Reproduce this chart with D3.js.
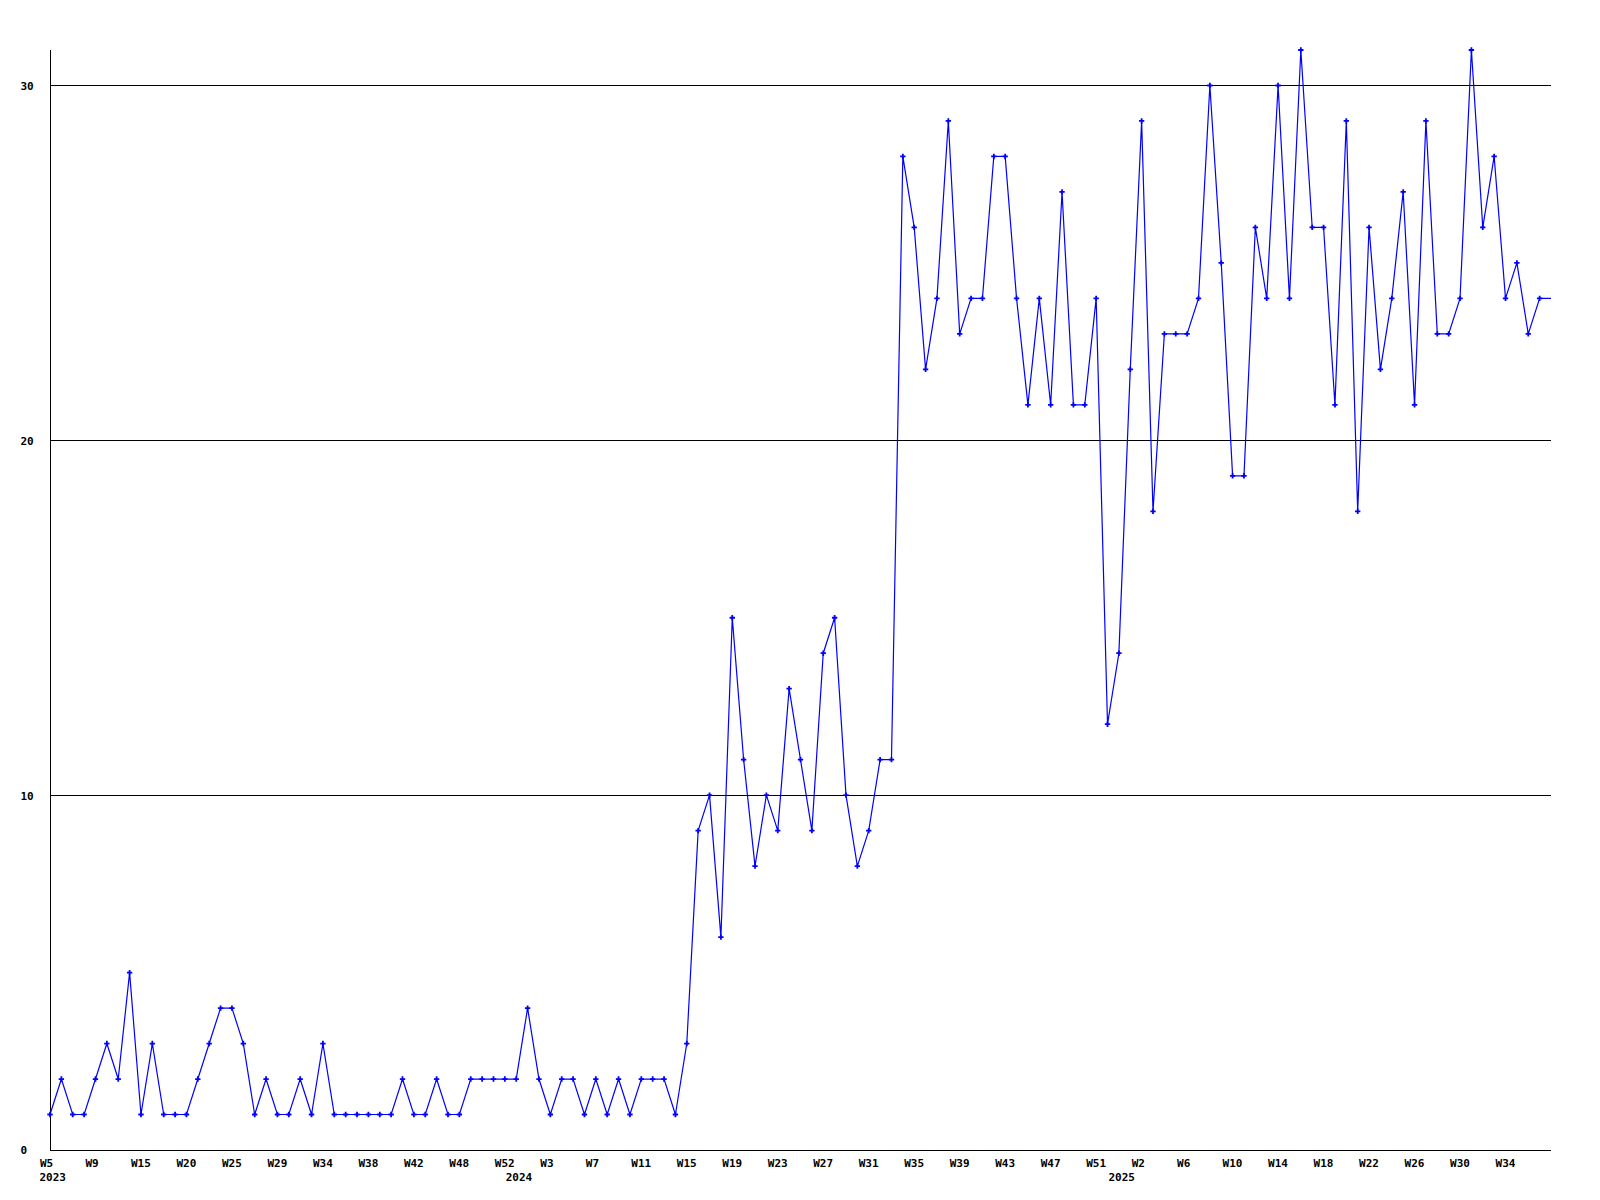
<!DOCTYPE html>
<html>
<head>
<meta charset="utf-8">
<script src="https://cdn.jsdelivr.net/npm/d3@7"></script>
<style>
  html, body { margin: 0; padding: 0; background: #ffffff; }
  svg { display: block; }
  text { font-family: "DejaVu Sans Mono", monospace; font-weight: bold; font-size: 11px; fill: #000; }
</style>
</head>
<body>
<svg id="chart" width="1600" height="1200"></svg>
<script>
// ---- data ----
const values = [
  1, 2, 1, 1, 2, 3, 2, 5, 1, 3,
  1, 1, 1, 2, 3, 4, 4, 3, 1, 2,
  1, 1, 2, 1, 3, 1, 1, 1, 1, 1,
  1, 2, 1, 1, 2, 1, 1, 2, 2, 2,
  2, 2, 4, 2, 1, 2, 2, 1, 2, 1,
  2, 1, 2, 2, 2, 1, 3, 9, 10, 6,
  15, 11, 8, 10, 9, 13, 11, 9, 14, 15,
  10, 8, 9, 11, 11, 28, 26, 22, 24, 29,
  23, 24, 24, 28, 28, 24, 21, 24, 21, 27,
  21, 21, 24, 12, 14, 22, 29, 18, 23, 23,
  23, 24, 30, 25, 19, 19, 26, 24, 30, 24,
  31, 26, 26, 21, 29, 18, 26, 22, 24, 27,
  21, 29, 23, 23, 24, 31, 26, 28, 24, 25,
  23, 24
];
const weekTickLabels = [
  "W5", "W9", "W15", "W20", "W25", "W29", "W34", "W38", "W42", "W48", "W52",
  "W3", "W7", "W11", "W15", "W19", "W23", "W27", "W31", "W35", "W39", "W43", "W47", "W51",
  "W2", "W6", "W10", "W14", "W18", "W22", "W26", "W30", "W34"
];
const weekTickEvery = 4;
const yearLabels = ["2023", "2024", "2025"];
const yearStartIndex = [0, 41, 94];
const yTicks = [0, 10, 20, 30];

(function () {
  // ---- layout ----
  const mLeft = 50, mRight = 1551, mTop = 50, mBottom = 1150;
  const svg = d3.select("#chart");

  const x = d3.scaleLinear().domain([0, values.length]).range([mLeft, mRight]);
  const y = d3.scaleLinear().domain([0, d3.max(values)]).range([mBottom, mTop]);

  // grid lines
  svg.append("g")
    .selectAll("line")
    .data(yTicks.filter(d => d > 0))
    .join("line")
    .attr("x1", mLeft).attr("x2", mRight)
    .attr("y1", d => Math.round(y(d)) + 0.5).attr("y2", d => Math.round(y(d)) + 0.5)
    .attr("stroke", "#000").attr("stroke-width", 1)
    .attr("shape-rendering", "crispEdges");

  // y axis
  const yAxis = svg.append("g")
    .attr("transform", `translate(${mLeft + 0.5},0)`)
    .call(d3.axisLeft(y).tickValues(yTicks).tickFormat(d3.format("d")).tickSize(0));
  yAxis.select(".domain").attr("stroke", "#000").attr("shape-rendering", "crispEdges")
    .attr("d", `M0,${mTop}V${mBottom + 0.5}`);
  yAxis.selectAll("text")
    .attr("text-anchor", "start")
    .attr("x", 20 - mLeft)
    .attr("dy", "0.36em")
    .style("font-family", "'DejaVu Sans Mono', monospace")
    .style("font-weight", "bold")
    .style("font-size", "11px");

  // x axis
  const tickIdx = weekTickLabels.map((_, i) => i * weekTickEvery);
  const xAxis = svg.append("g")
    .attr("transform", `translate(0,${mBottom + 0.5})`)
    .call(d3.axisBottom(x).tickValues(tickIdx)
      .tickFormat((d, i) => weekTickLabels[i]).tickSize(0));
  xAxis.select(".domain").attr("stroke", "#000").attr("shape-rendering", "crispEdges")
    .attr("d", `M${mLeft},0H${mRight}`);
  xAxis.selectAll("text")
    .attr("text-anchor", "start")
    .attr("dx", -10.5)
    .attr("y", 0)
    .attr("dy", 16)
    .style("font-family", "'DejaVu Sans Mono', monospace")
    .style("font-weight", "bold")
    .style("font-size", "11px");

  // year labels
  svg.append("g")
    .selectAll("text")
    .data(yearLabels)
    .join("text")
    .attr("x", (d, i) => x(yearStartIndex[i]) - 10.5)
    .attr("y", mBottom + 31)
    .attr("text-anchor", "start")
    .text(d => d);

  // line (extended flat to the right edge)
  const lineData = values.map((v, i) => [i, v]);
  lineData.push([values.length, values[values.length - 1]]);
  const line = d3.line().x(d => x(d[0])).y(d => y(d[1]));

  svg.append("path")
    .datum(lineData)
    .attr("d", line)
    .attr("fill", "none")
    .attr("stroke", "#0000ff")
    .attr("stroke-width", 1.2);

  // markers
  svg.append("g")
    .selectAll("path")
    .data(values)
    .join("path")
    .attr("transform", (d, i) => `translate(${x(i)},${y(d)})`)
    .attr("d", d3.symbol().type(d3.symbolCross).size(16))
    .attr("fill", "#0000ff");
})();
</script>
</body>
</html>
